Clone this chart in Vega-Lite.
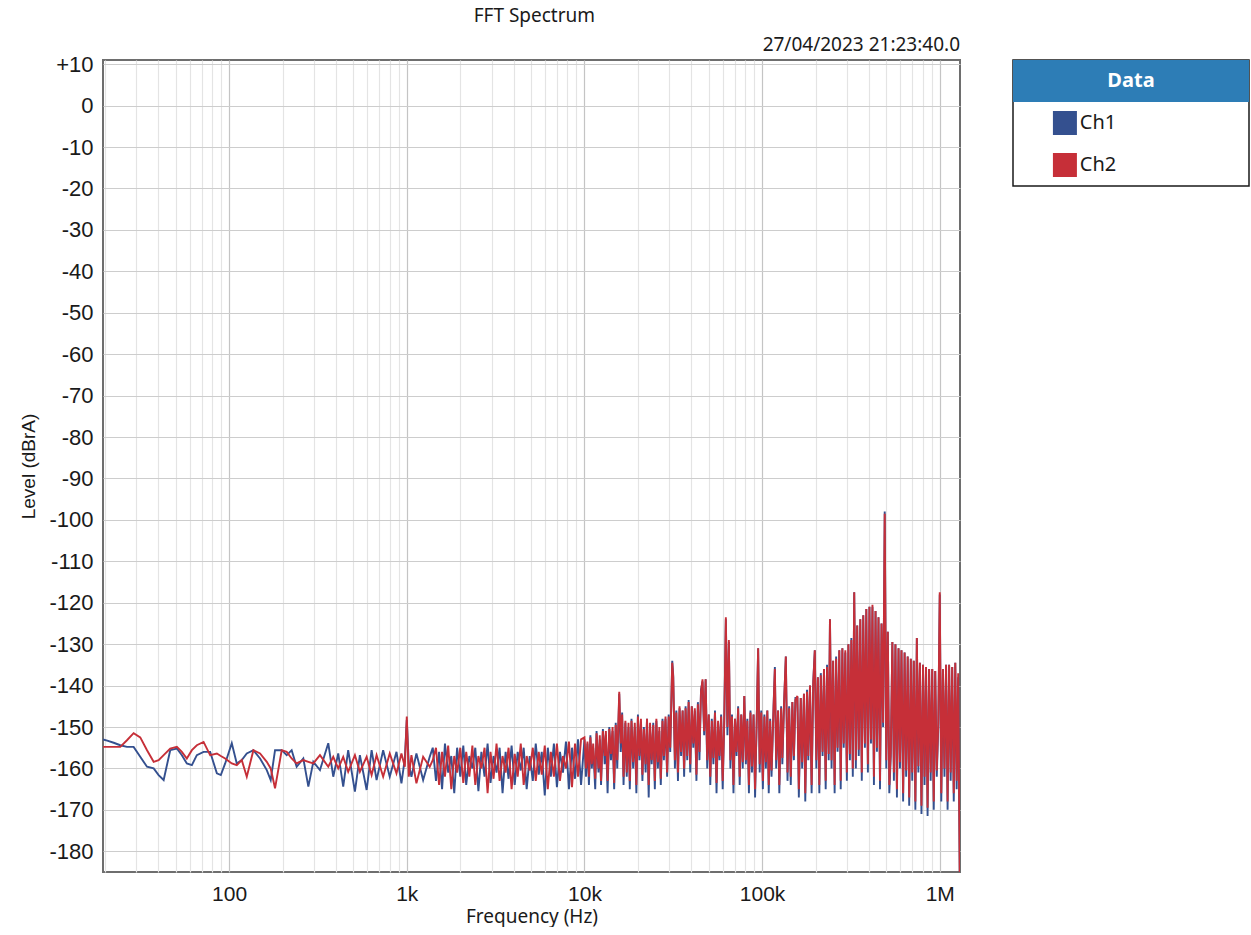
{
  "$schema": "https://vega.github.io/schema/vega-lite/v6.json",
  "background": "white",
  "padding": {"left": 18, "top": 7, "right": 0, "bottom": 0},
  "title": {"text": "FFT Spectrum", "anchor": "middle", "dx": -100, "font": "Noto Sans", "fontSize": 19, "fontWeight": "normal", "color": "#1a1a1a", "offset": 9},
  "spacing": 51,
  "config": {"view": {"stroke": null}},
  "hconcat": [
    {
      "width": 857,
      "height": 812,
      "view": {"stroke": "#6e6e6e", "strokeWidth": 2},
      "title": {"text": "27/04/2023 21:23:40.0", "anchor": "end", "font": "Noto Sans", "fontSize": 19, "fontWeight": "normal", "color": "#1a1a1a", "offset": -2},
      "data": {"values": [
        {"f":19.5,"Ch1":-153,"Ch2":-154.8},{"f":20.6,"Ch1":-153.3,"Ch2":-154.8},{"f":22.4,"Ch1":-153.8,"Ch2":-154.8},{"f":24.4,"Ch1":-154.4,"Ch2":-154.8},{"f":26.6,"Ch1":-154.8,"Ch2":-153.2},{"f":29.0,"Ch1":-154.8,"Ch2":-151.5},{"f":31.6,"Ch1":-157.2,"Ch2":-152.5},{"f":34.5,"Ch1":-159.6,"Ch2":-155.6},{"f":37.6,"Ch1":-160,"Ch2":-158.4},{"f":40.1,"Ch1":-161.6,"Ch2":-158},{"f":42.8,"Ch1":-162.8,"Ch2":-156.8},{"f":46.6,"Ch1":-155.6,"Ch2":-155.2},{"f":50.8,"Ch1":-155.2,"Ch2":-154.8},{"f":54.2,"Ch1":-156.8,"Ch2":-156},{"f":57.8,"Ch1":-158.8,"Ch2":-157.6},{"f":61.7,"Ch1":-159.2,"Ch2":-155.6},{"f":65.8,"Ch1":-156.8,"Ch2":-154.4},{"f":71.8,"Ch1":-156,"Ch2":-153.6},{"f":78.2,"Ch1":-156,"Ch2":-156.8},{"f":85.3,"Ch1":-161.2,"Ch2":-156.4},{"f":89.8,"Ch1":-161.6,"Ch2":-157},{"f":95.0,"Ch1":-158.8,"Ch2":-157.6},
        {"f":103.5,"Ch1":-153.9,"Ch2":-158.8},{"f":110.4,"Ch1":-158.8,"Ch2":-159.2},{"f":117.8,"Ch1":-158,"Ch2":-158},{"f":125.7,"Ch1":-156.4,"Ch2":-162},{"f":137.0,"Ch1":-155.6,"Ch2":-155.6},{"f":149.3,"Ch1":-157.6,"Ch2":-156.4},{"f":162.9,"Ch1":-160.4,"Ch2":-158.4},{"f":171.4,"Ch1":-162.8,"Ch2":-160},{"f":181.3,"Ch1":-155.6,"Ch2":-164.8},{"f":197.7,"Ch1":-155.6,"Ch2":-155.6},{"f":210.9,"Ch1":-156.8,"Ch2":-156},{"f":224.9,"Ch1":-155.6,"Ch2":-157.6},{"f":239.9,"Ch1":-159.6,"Ch2":-158.8},{"f":261.6,"Ch1":-157.6,"Ch2":-158},{"f":279.2,"Ch1":-164.4,"Ch2":-158.4},{"f":297.8,"Ch1":-158.4,"Ch2":-158.8},{"f":324.6,"Ch1":-160.4,"Ch2":-156.8},{"f":361.4,"Ch1":-153.9,"Ch2":-159.6},{"f":385.5,"Ch1":-162,"Ch2":-157.2},{"f":411.2,"Ch1":-156.4,"Ch2":-160},{"f":438.7,"Ch1":-164.4,"Ch2":-157.2},{"f":467.9,"Ch1":-155.6,"Ch2":-160.8},{"f":510.5,"Ch1":-165.6,"Ch2":-156.8},{"f":544.5,"Ch1":-156.8,"Ch2":-160.8},{"f":594.3,"Ch1":-165.2,"Ch2":-157.2},{"f":633.9,"Ch1":-155.6,"Ch2":-161.6},{"f":676.1,"Ch1":-162.8,"Ch2":-156.8},{"f":736.2,"Ch1":-155.6,"Ch2":-162},{"f":801.7,"Ch1":-162,"Ch2":-156.4},{"f":875,"Ch1":-156,"Ch2":-161.2},{"f":933,"Ch1":-163.6,"Ch2":-156.4},{"f":975,"Ch1":-157.6,"Ch2":-159.6},
        {"f":1000,"Ch1":-148.3,"Ch2":-147.5},{"f":1026,"Ch1":-158.8,"Ch2":-162},{"f":1062,"Ch1":-162,"Ch2":-156.8},{"f":1133,"Ch1":-156.4,"Ch2":-163.6},{"f":1236,"Ch1":-162.8,"Ch2":-157.2},{"f":1346,"Ch1":-157.2,"Ch2":-159.6},
        {"f":1400,"Ch1":-155,"Ch2":-158},{"f":1460,"Ch1":-163,"Ch2":-155},{"f":1520,"Ch1":-156,"Ch2":-164},{"f":1580,"Ch1":-165,"Ch2":-156},{"f":1640,"Ch1":-154,"Ch2":-162},{"f":1710,"Ch1":-161,"Ch2":-154.5},{"f":1780,"Ch1":-157,"Ch2":-165},{"f":1850,"Ch1":-166,"Ch2":-157},{"f":1920,"Ch1":-155,"Ch2":-161},{"f":2000,"Ch1":-162,"Ch2":-155},
        {"f":2080,"Ch1":-154.5,"Ch2":-163.5},{"f":2160,"Ch1":-164,"Ch2":-156},{"f":2250,"Ch1":-157,"Ch2":-162},{"f":2340,"Ch1":-160,"Ch2":-154.5},{"f":2430,"Ch1":-155,"Ch2":-164},{"f":2530,"Ch1":-165.5,"Ch2":-157},{"f":2630,"Ch1":-156,"Ch2":-160},{"f":2740,"Ch1":-162,"Ch2":-155},{"f":2850,"Ch1":-154,"Ch2":-166},{"f":2960,"Ch1":-163.5,"Ch2":-156},
        {"f":3080,"Ch1":-157,"Ch2":-162.5},{"f":3200,"Ch1":-161,"Ch2":-154},{"f":3330,"Ch1":-155,"Ch2":-163},{"f":3460,"Ch1":-166,"Ch2":-157},{"f":3600,"Ch1":-156,"Ch2":-161},{"f":3740,"Ch1":-162.5,"Ch2":-155},{"f":3890,"Ch1":-154.5,"Ch2":-165},{"f":4050,"Ch1":-164,"Ch2":-156.5},{"f":4210,"Ch1":-156,"Ch2":-162},{"f":4380,"Ch1":-160.5,"Ch2":-154},
        {"f":4550,"Ch1":-155,"Ch2":-164},{"f":4730,"Ch1":-165,"Ch2":-157},{"f":4920,"Ch1":-157,"Ch2":-160.5},{"f":5120,"Ch1":-163,"Ch2":-155},{"f":5320,"Ch1":-154,"Ch2":-163},{"f":5530,"Ch1":-161.5,"Ch2":-156},{"f":5750,"Ch1":-156,"Ch2":-161.5},{"f":5980,"Ch1":-166.5,"Ch2":-154.5},{"f":6220,"Ch1":-155,"Ch2":-165},{"f":6470,"Ch1":-162,"Ch2":-156},
        {"f":6730,"Ch1":-154,"Ch2":-162},{"f":7000,"Ch1":-164.5,"Ch2":-154},{"f":7280,"Ch1":-156,"Ch2":-163},{"f":7570,"Ch1":-161,"Ch2":-157},{"f":7870,"Ch1":-153.5,"Ch2":-160},{"f":8180,"Ch1":-165,"Ch2":-153.5},{"f":8510,"Ch1":-155,"Ch2":-164.5},{"f":8850,"Ch1":-162.5,"Ch2":-154},{"f":9200,"Ch1":-153,"Ch2":-162},{"f":9570,"Ch1":-164,"Ch2":-153},
        {"f":10000,"Ch1":-153,"Ch2":-152.5},{"f":10200,"Ch1":-162,"Ch2":-160},{"f":10400,"Ch1":-154,"Ch2":-153.5},{"f":10600,"Ch1":-164,"Ch2":-162},{"f":10800,"Ch1":-152,"Ch2":-152.5},{"f":11000,"Ch1":-160,"Ch2":-159},{"f":11200,"Ch1":-155,"Ch2":-154},{"f":11500,"Ch1":-165,"Ch2":-162.5},{"f":11700,"Ch1":-151,"Ch2":-151.5},{"f":12000,"Ch1":-161,"Ch2":-160},
        {"f":12200,"Ch1":-153,"Ch2":-152},{"f":12400,"Ch1":-164,"Ch2":-163},{"f":12700,"Ch1":-150.5,"Ch2":-151},{"f":13000,"Ch1":-159,"Ch2":-157},{"f":13200,"Ch1":-152,"Ch2":-151},{"f":13500,"Ch1":-166,"Ch2":-163},{"f":13800,"Ch1":-150,"Ch2":-150.5},{"f":14100,"Ch1":-158,"Ch2":-156.5},{"f":14400,"Ch1":-151,"Ch2":-150},{"f":14700,"Ch1":-165,"Ch2":-163.5},
        {"f":15000,"Ch1":-149,"Ch2":-149.5},{"f":15300,"Ch1":-160,"Ch2":-158},{"f":15700,"Ch1":-142,"Ch2":-141.5},{"f":16000,"Ch1":-156,"Ch2":-154},{"f":16300,"Ch1":-146.5,"Ch2":-147},{"f":16600,"Ch1":-164,"Ch2":-162},{"f":17000,"Ch1":-149,"Ch2":-148.5},{"f":17300,"Ch1":-162,"Ch2":-161},{"f":17700,"Ch1":-150,"Ch2":-149},{"f":18000,"Ch1":-165,"Ch2":-163},
        {"f":18400,"Ch1":-148,"Ch2":-148.5},{"f":18800,"Ch1":-160,"Ch2":-158.5},{"f":19200,"Ch1":-150,"Ch2":-149},{"f":19600,"Ch1":-166,"Ch2":-164},{"f":20000,"Ch1":-147,"Ch2":-147.5},{"f":20400,"Ch1":-158,"Ch2":-157},{"f":20800,"Ch1":-149,"Ch2":-148},{"f":21200,"Ch1":-163,"Ch2":-161.5},{"f":21600,"Ch1":-150,"Ch2":-150.5},{"f":22100,"Ch1":-161,"Ch2":-159},
        {"f":22500,"Ch1":-148,"Ch2":-148},{"f":23000,"Ch1":-167,"Ch2":-164},{"f":23400,"Ch1":-150,"Ch2":-149},{"f":23900,"Ch1":-159,"Ch2":-158},{"f":24400,"Ch1":-149,"Ch2":-149.5},{"f":24900,"Ch1":-165,"Ch2":-163},{"f":25400,"Ch1":-148.5,"Ch2":-148},{"f":25900,"Ch1":-160,"Ch2":-158.5},{"f":26400,"Ch1":-151,"Ch2":-150},{"f":26900,"Ch1":-164,"Ch2":-162.5},
        {"f":27500,"Ch1":-148,"Ch2":-148.5},{"f":28000,"Ch1":-158,"Ch2":-157},{"f":28600,"Ch1":-148,"Ch2":-147.5},{"f":29200,"Ch1":-162,"Ch2":-161},{"f":29800,"Ch1":-147,"Ch2":-147.5},{"f":30400,"Ch1":-156,"Ch2":-155},{"f":31200,"Ch1":-134,"Ch2":-134.5},{"f":31600,"Ch1":-137.5,"Ch2":-138},{"f":32300,"Ch1":-160,"Ch2":-158},{"f":32900,"Ch1":-146,"Ch2":-146.5},
        {"f":33600,"Ch1":-163,"Ch2":-161},{"f":34300,"Ch1":-145.5,"Ch2":-145},{"f":35000,"Ch1":-157,"Ch2":-156},{"f":35700,"Ch1":-146,"Ch2":-146},{"f":36400,"Ch1":-162,"Ch2":-160},{"f":37100,"Ch1":-145,"Ch2":-145.5},{"f":37900,"Ch1":-158,"Ch2":-157},{"f":38600,"Ch1":-143.5,"Ch2":-144},{"f":39400,"Ch1":-161,"Ch2":-159},{"f":40200,"Ch1":-145,"Ch2":-145},
        {"f":41000,"Ch1":-155,"Ch2":-154},{"f":41800,"Ch1":-146,"Ch2":-145.5},{"f":42700,"Ch1":-163,"Ch2":-161.5},{"f":43500,"Ch1":-144,"Ch2":-144.5},{"f":44400,"Ch1":-158,"Ch2":-156},{"f":45300,"Ch1":-141,"Ch2":-141.5},{"f":46200,"Ch1":-139,"Ch2":-138.5},{"f":47200,"Ch1":-152,"Ch2":-151},{"f":48100,"Ch1":-138.5,"Ch2":-138.5},{"f":49100,"Ch1":-160,"Ch2":-158},
        {"f":50100,"Ch1":-147,"Ch2":-147},{"f":51100,"Ch1":-164,"Ch2":-162},{"f":52100,"Ch1":-148,"Ch2":-148.5},{"f":53200,"Ch1":-159,"Ch2":-157.5},{"f":54300,"Ch1":-146,"Ch2":-146.5},{"f":55400,"Ch1":-166,"Ch2":-163.5},{"f":56500,"Ch1":-149,"Ch2":-148.5},{"f":57600,"Ch1":-158,"Ch2":-157},{"f":58800,"Ch1":-147,"Ch2":-147.5},{"f":60000,"Ch1":-165,"Ch2":-163},
        {"f":61200,"Ch1":-149,"Ch2":-149},{"f":62500,"Ch1":-124,"Ch2":-123.5},{"f":63800,"Ch1":-152,"Ch2":-150},{"f":65000,"Ch1":-129.5,"Ch2":-129},{"f":66300,"Ch1":-160,"Ch2":-158},{"f":67700,"Ch1":-147,"Ch2":-147.5},{"f":69000,"Ch1":-166,"Ch2":-164},{"f":70400,"Ch1":-148,"Ch2":-148},{"f":71800,"Ch1":-157,"Ch2":-156},{"f":73300,"Ch1":-145,"Ch2":-145.5},
        {"f":74800,"Ch1":-164,"Ch2":-162},{"f":76300,"Ch1":-147,"Ch2":-147},{"f":77800,"Ch1":-160,"Ch2":-158.5},{"f":79400,"Ch1":-142.5,"Ch2":-142.5},{"f":81000,"Ch1":-159,"Ch2":-158},{"f":82600,"Ch1":-148,"Ch2":-148.5},{"f":84300,"Ch1":-166,"Ch2":-164},{"f":86000,"Ch1":-146,"Ch2":-146.5},{"f":87700,"Ch1":-161,"Ch2":-159.5},{"f":89500,"Ch1":-147,"Ch2":-147},
        {"f":91300,"Ch1":-167,"Ch2":-165},{"f":93100,"Ch1":-150,"Ch2":-150},{"f":95000,"Ch1":-131,"Ch2":-131},{"f":96900,"Ch1":-161,"Ch2":-159},{"f":98900,"Ch1":-146,"Ch2":-146.5},
        {"f":101000,"Ch1":-165,"Ch2":-163},{"f":103000,"Ch1":-147,"Ch2":-147.5},{"f":105000,"Ch1":-160,"Ch2":-158.5},{"f":107000,"Ch1":-146,"Ch2":-146},{"f":109000,"Ch1":-166,"Ch2":-164},{"f":111000,"Ch1":-148,"Ch2":-148.5},{"f":113000,"Ch1":-162,"Ch2":-160.5},{"f":116000,"Ch1":-145,"Ch2":-145.5},{"f":118000,"Ch1":-135.5,"Ch2":-136},{"f":120000,"Ch1":-160,"Ch2":-158},
        {"f":123000,"Ch1":-146,"Ch2":-146},{"f":125000,"Ch1":-166,"Ch2":-164},{"f":128000,"Ch1":-145,"Ch2":-145.5},{"f":130000,"Ch1":-159,"Ch2":-157.5},{"f":133000,"Ch1":-144,"Ch2":-144},{"f":136000,"Ch1":-133,"Ch2":-133},{"f":139000,"Ch1":-163,"Ch2":-161},{"f":142000,"Ch1":-145,"Ch2":-145.5},{"f":145000,"Ch1":-164,"Ch2":-162},{"f":148000,"Ch1":-144,"Ch2":-144},
        {"f":151000,"Ch1":-158,"Ch2":-157},{"f":154000,"Ch1":-143,"Ch2":-143.5},{"f":158000,"Ch1":-143,"Ch2":-142.5},{"f":161000,"Ch1":-167,"Ch2":-165},{"f":165000,"Ch1":-143,"Ch2":-143},{"f":168000,"Ch1":-160,"Ch2":-158.5},{"f":172000,"Ch1":-142,"Ch2":-142},{"f":175000,"Ch1":-168,"Ch2":-166},{"f":179000,"Ch1":-141,"Ch2":-141.5},{"f":182000,"Ch1":-158,"Ch2":-157},
        {"f":186000,"Ch1":-140,"Ch2":-140},{"f":190000,"Ch1":-166,"Ch2":-164},{"f":194000,"Ch1":-139,"Ch2":-139.5},{"f":198000,"Ch1":-131.5,"Ch2":-131.5},{"f":202000,"Ch1":-160,"Ch2":-158},{"f":206000,"Ch1":-138,"Ch2":-138},{"f":210000,"Ch1":-166,"Ch2":-164},{"f":214000,"Ch1":-137,"Ch2":-137.5},{"f":219000,"Ch1":-157,"Ch2":-156},{"f":223000,"Ch1":-136,"Ch2":-136},
        {"f":228000,"Ch1":-165,"Ch2":-163},{"f":232000,"Ch1":-135,"Ch2":-135.5},{"f":237000,"Ch1":-158,"Ch2":-156.5},{"f":241000,"Ch1":-124,"Ch2":-124},{"f":246000,"Ch1":-160,"Ch2":-158},{"f":251000,"Ch1":-134,"Ch2":-134},{"f":256000,"Ch1":-166,"Ch2":-164},{"f":261000,"Ch1":-133,"Ch2":-133.5},{"f":266000,"Ch1":-156,"Ch2":-155},{"f":272000,"Ch1":-131.5,"Ch2":-131.5},
        {"f":277000,"Ch1":-165,"Ch2":-163},{"f":283000,"Ch1":-131,"Ch2":-131},{"f":288000,"Ch1":-155,"Ch2":-154},{"f":294000,"Ch1":-132,"Ch2":-131.5},{"f":300000,"Ch1":-163,"Ch2":-161},{"f":306000,"Ch1":-130,"Ch2":-130},{"f":312000,"Ch1":-158,"Ch2":-156.5},{"f":318000,"Ch1":-128.5,"Ch2":-129},{"f":324000,"Ch1":-162,"Ch2":-160},{"f":330000,"Ch1":-117.5,"Ch2":-117.5},
        {"f":337000,"Ch1":-160,"Ch2":-158},{"f":343000,"Ch1":-125.5,"Ch2":-125.5},{"f":350000,"Ch1":-157,"Ch2":-155.5},{"f":357000,"Ch1":-124,"Ch2":-124},{"f":364000,"Ch1":-163,"Ch2":-161},{"f":371000,"Ch1":-123,"Ch2":-123},{"f":379000,"Ch1":-155,"Ch2":-154},{"f":386000,"Ch1":-121.5,"Ch2":-121.5},{"f":394000,"Ch1":-161,"Ch2":-159},{"f":402000,"Ch1":-121,"Ch2":-121},
        {"f":410000,"Ch1":-154,"Ch2":-153},{"f":418000,"Ch1":-121,"Ch2":-120.5},{"f":426000,"Ch1":-164,"Ch2":-162},{"f":435000,"Ch1":-122,"Ch2":-122},{"f":443000,"Ch1":-156,"Ch2":-155},{"f":452000,"Ch1":-123.5,"Ch2":-123.5},{"f":461000,"Ch1":-165,"Ch2":-163},{"f":470000,"Ch1":-125,"Ch2":-125},{"f":480000,"Ch1":-150,"Ch2":-149},{"f":490000,"Ch1":-98,"Ch2":-98.5},
        {"f":500000,"Ch1":-160,"Ch2":-158},{"f":510000,"Ch1":-127,"Ch2":-127},{"f":520000,"Ch1":-166,"Ch2":-164},{"f":530000,"Ch1":-157,"Ch2":-156},{"f":541000,"Ch1":-129.5,"Ch2":-129.5},{"f":552000,"Ch1":-163,"Ch2":-161},{"f":563000,"Ch1":-130,"Ch2":-130},{"f":574000,"Ch1":-167,"Ch2":-165},{"f":586000,"Ch1":-131,"Ch2":-131},{"f":597000,"Ch1":-160,"Ch2":-158.5},
        {"f":609000,"Ch1":-131.5,"Ch2":-131.5},{"f":622000,"Ch1":-168,"Ch2":-166},{"f":634000,"Ch1":-132,"Ch2":-132},{"f":647000,"Ch1":-162,"Ch2":-160.5},{"f":660000,"Ch1":-133,"Ch2":-133},{"f":673000,"Ch1":-169,"Ch2":-167},{"f":687000,"Ch1":-133.5,"Ch2":-133.5},{"f":700000,"Ch1":-163,"Ch2":-161},{"f":714000,"Ch1":-134,"Ch2":-134},{"f":729000,"Ch1":-170,"Ch2":-168},
        {"f":743000,"Ch1":-128.5,"Ch2":-128.5},{"f":758000,"Ch1":-161,"Ch2":-159.5},{"f":773000,"Ch1":-134.5,"Ch2":-134.5},{"f":789000,"Ch1":-171,"Ch2":-169},{"f":805000,"Ch1":-135,"Ch2":-135},{"f":821000,"Ch1":-164,"Ch2":-162},{"f":837000,"Ch1":-135.5,"Ch2":-135.5},{"f":854000,"Ch1":-171.5,"Ch2":-169.5},{"f":871000,"Ch1":-136,"Ch2":-136},{"f":889000,"Ch1":-163,"Ch2":-161},
        {"f":907000,"Ch1":-136,"Ch2":-136},{"f":925000,"Ch1":-170,"Ch2":-168},{"f":943000,"Ch1":-136.5,"Ch2":-136.5},{"f":962000,"Ch1":-162,"Ch2":-160.5},{"f":981000,"Ch1":-150,"Ch2":-149},{"f":1000000,"Ch1":-118,"Ch2":-117.5},{"f":1020000,"Ch1":-168,"Ch2":-166},{"f":1042000,"Ch1":-136,"Ch2":-136},{"f":1063000,"Ch1":-162,"Ch2":-160},{"f":1085000,"Ch1":-135,"Ch2":-135},
        {"f":1107000,"Ch1":-170,"Ch2":-168},{"f":1129000,"Ch1":-135,"Ch2":-135},{"f":1152000,"Ch1":-163,"Ch2":-161},{"f":1175000,"Ch1":-135.5,"Ch2":-135.5},{"f":1199000,"Ch1":-168,"Ch2":-166},{"f":1223000,"Ch1":-134.5,"Ch2":-134.5},{"f":1245000,"Ch1":-165,"Ch2":-163},{"f":1270000,"Ch1":-138,"Ch2":-137},{"f":1295000,"Ch1":-185,"Ch2":-185}
      ]},
      "transform": [{"fold": ["Ch1", "Ch2"], "as": ["ch", "v"]}],
      "mark": {"type": "line", "strokeWidth": 1.9, "clip": true, "interpolate": "linear"},
      "encoding": {
        "x": {
          "field": "f", "type": "quantitative",
          "scale": {"type": "log", "domain": [19.5, 1300000], "nice": false},
          "axis": {
            "title": "Frequency (Hz)",
            "values": [20,30,40,50,60,70,80,90,100,200,300,400,500,600,700,800,900,1000,2000,3000,4000,5000,6000,7000,8000,9000,10000,20000,30000,40000,50000,60000,70000,80000,90000,100000,200000,300000,400000,500000,600000,700000,800000,900000,1000000],
            "labelExpr": "datum.value == 100 ? '100' : datum.value == 1000 ? '1k' : datum.value == 10000 ? '10k' : datum.value == 100000 ? '100k' : datum.value == 1000000 ? '1M' : ''",
            "grid": true,
            "gridColor": {"condition": {"test": "indexof([100,1000,10000,100000,1000000], datum.value) >= 0", "value": "#c4c4c4"}, "value": "#e4e4e4"},
            "gridWidth": 1.2,
            "ticks": false, "domain": false,
            "labelOverlap": false, "labelFlush": false,
            "labelFont": "Liberation Sans", "labelFontSize": 21, "labelColor": "#1a1a1a", "labelPadding": 11,
            "titleFont": "Noto Sans", "titleFontSize": 19, "titleFontWeight": "normal", "titleColor": "#1a1a1a", "titlePadding": 3
          }
        },
        "y": {
          "field": "v", "type": "quantitative",
          "scale": {"domain": [-185, 11], "nice": false, "zero": false},
          "axis": {
            "title": "Level (dBrA)",
            "values": [-180,-170,-160,-150,-140,-130,-120,-110,-100,-90,-80,-70,-60,-50,-40,-30,-20,-10,0,10],
            "labelExpr": "(datum.value > 0 ? '+' : '') + datum.value",
            "grid": true, "gridColor": "#cdcdcd", "gridWidth": 1.2,
            "ticks": false, "domain": false,
            "labelOverlap": false, "labelFlush": false,
            "labelFont": "Liberation Sans", "labelFontSize": 22, "labelColor": "#1a1a1a", "labelPadding": 10,
            "titleFont": "Liberation Sans", "titleFontSize": 19, "titleFontWeight": "normal", "titleColor": "#1a1a1a", "titlePadding": 10
          }
        },
        "color": {
          "field": "ch", "type": "nominal",
          "scale": {"domain": ["Ch1", "Ch2"], "range": ["#34508f", "#c62f38"]},
          "legend": null
        }
      }
    },
    {
      "width": 236,
      "height": 126,
      "view": {"stroke": "#1a1a1a", "strokeWidth": 1.5},
      "title": {"text": " ", "anchor": "end", "font": "Noto Sans", "fontSize": 19, "fontWeight": "normal", "offset": 2},
      "data": {"values": [{"row": "Data"}, {"row": "Ch1"}, {"row": "Ch2"}]},
      "encoding": {
        "y": {"field": "row", "type": "nominal", "sort": ["Data", "Ch1", "Ch2"], "scale": {"paddingInner": 0, "paddingOuter": 0}, "axis": null}
      },
      "layer": [
        {
          "transform": [{"filter": "datum.row === 'Data'"}],
          "mark": {"type": "rect", "color": "#2d7db6"},
          "encoding": {
            "x": {"datum": 0, "type": "quantitative", "scale": {"domain": [0, 1], "nice": false, "zero": false}, "axis": null},
            "x2": {"datum": 1}
          }
        },
        {
          "transform": [{"filter": "datum.row === 'Data'"}],
          "mark": {"type": "text", "color": "white", "font": "Noto Sans", "fontSize": 20, "fontWeight": "bold", "align": "center", "baseline": "middle"},
          "encoding": {
            "x": {"datum": 0.5, "type": "quantitative"},
            "text": {"field": "row"}
          }
        },
        {
          "transform": [{"filter": "datum.row !== 'Data'"}],
          "mark": {"type": "point", "shape": "square", "filled": true, "opacity": 1, "size": 576},
          "encoding": {
            "x": {"datum": 0.22, "type": "quantitative"},
            "color": {"field": "row", "type": "nominal", "scale": {"domain": ["Ch1", "Ch2"], "range": ["#0f2f7a", "#c42020"]}, "legend": null}
          }
        },
        {
          "transform": [{"filter": "datum.row !== 'Data'"}],
          "mark": {"type": "text", "color": "#1a1a1a", "font": "Noto Sans", "fontSize": 20, "align": "left", "baseline": "middle"},
          "encoding": {
            "x": {"datum": 0.283, "type": "quantitative"},
            "text": {"field": "row"}
          }
        }
      ]
    }
  ]
}
